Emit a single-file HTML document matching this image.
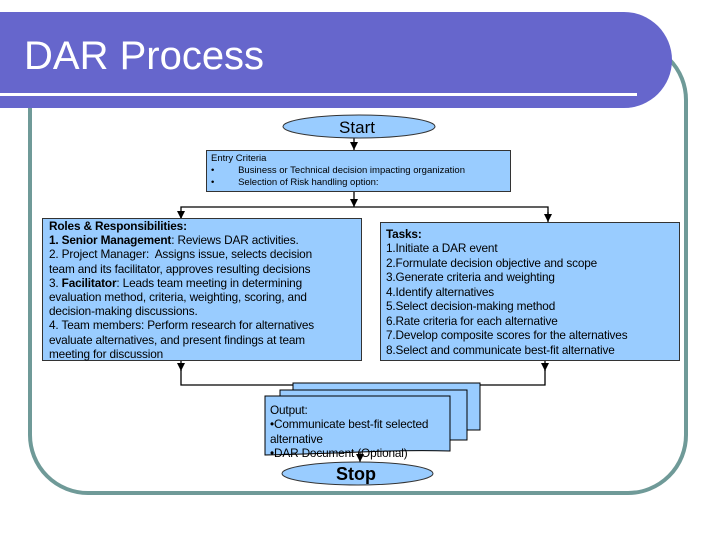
<!DOCTYPE html>
<html><head><meta charset="utf-8"><style>
body{margin:0;width:720px;height:540px;background:#fff;position:relative;overflow:hidden;font-family:"Liberation Sans",sans-serif}
.a{position:absolute}
.box{position:absolute;background:#99ccff;border:1px solid #333;box-sizing:border-box}
.t{font-size:11.8px;line-height:14.2px;color:#000;white-space:nowrap;letter-spacing:-0.15px}
</style></head><body>
<div class="a" style="left:28px;top:40px;width:660px;height:455px;border:4px solid #6f9a98;border-radius:60px;box-sizing:border-box"></div>
<div class="a" style="left:0;top:12px;width:672px;height:96px;background:#6666cc;border-radius:0 48px 48px 0"></div>
<div class="a" style="left:0;top:93px;width:637px;height:3px;background:#fff"></div>
<div class="a" style="left:24px;top:33px;font-size:40px;color:#fff;line-height:46px">DAR Process</div>
<svg class="a" style="left:0;top:0" width="720" height="540">
<defs><marker id="m" markerWidth="8" markerHeight="8" refX="8" refY="4" orient="auto" markerUnits="userSpaceOnUse"><path d="M0,0L8,4L0,8z" fill="#000"/></marker></defs>
<g stroke="#000" stroke-width="1.3" fill="none">
<line x1="354" y1="138" x2="354" y2="150" marker-end="url(#m)"/>
<line x1="354" y1="191" x2="354" y2="207" marker-end="url(#m)"/>
<polyline points="181,218 181,207 548,207 548,220"/>
<line x1="548" y1="212" x2="548" y2="222" marker-end="url(#m)"/>
<line x1="181" y1="212" x2="181" y2="219" marker-end="url(#m)"/>
<line x1="181" y1="360" x2="181" y2="371" marker-end="url(#m)"/>
<line x1="545" y1="360" x2="545" y2="371" marker-end="url(#m)"/>
<polyline points="181,370 181,385 545,385 545,370"/>
<line x1="356" y1="385" x2="356" y2="397" marker-end="url(#m)"/>
</g>
<ellipse cx="359" cy="126.5" rx="76" ry="11.5" fill="#99ccff" stroke="#333"/>
<text x="357" y="133" font-size="17" text-anchor="middle" font-family="Liberation Sans">Start</text>
<rect x="293" y="383" width="187" height="47" fill="#99ccff" stroke="#000"/>
<rect x="280" y="390" width="187" height="50" fill="#99ccff" stroke="#000"/>
<path d="M265,396H450V451Q410,450 360,452T265,455Z" fill="#99ccff" stroke="#000"/>
<line x1="360" y1="452" x2="360" y2="462" stroke="#000" stroke-width="1.3" marker-end="url(#m)"/>
<ellipse cx="357.5" cy="473.5" rx="75.5" ry="11.5" fill="#99ccff" stroke="#333"/>
<text x="356" y="480" font-size="18" font-weight="bold" text-anchor="middle" font-family="Liberation Sans">Stop</text>
</svg>
<div class="box" style="left:206px;top:150px;width:305px;height:42px;padding:2px 0 0 4px;font-size:9.5px;line-height:12px">Entry Criteria<br>•&nbsp;&nbsp;&nbsp;&nbsp;&nbsp;&nbsp;&nbsp;&nbsp;&nbsp;Business or Technical decision impacting organization<br>•&nbsp;&nbsp;&nbsp;&nbsp;&nbsp;&nbsp;&nbsp;&nbsp;&nbsp;Selection of Risk handling option:</div>
<div class="box t" style="left:42px;top:218px;width:320px;height:143px;padding:0 0 0 6px">
<b>Roles &amp; Responsibilities:</b><br><b>1. Senior Management</b>: Reviews DAR activities.<br>2. Project Manager:&nbsp; Assigns issue, selects decision<br>team and its facilitator, approves resulting decisions<br>3. <b>Facilitator</b>: Leads team meeting in determining<br>evaluation method, criteria, weighting, scoring, and<br>decision-making discussions.<br>4. Team members: Perform research for alternatives<br>evaluate alternatives, and present findings at team<br>meeting for discussion</div>
<div class="box t" style="left:380px;top:222px;width:300px;height:139px;padding:4px 0 0 5px;line-height:14.45px">
<b>Tasks:</b><br>1.Initiate a DAR event<br>2.Formulate decision objective and scope<br>3.Generate criteria and weighting<br>4.Identify alternatives<br>5.Select decision-making method<br>6.Rate criteria for each alternative<br>7.Develop composite scores for the alternatives<br>8.Select and communicate best-fit alternative</div>
<div class="a t" style="left:270px;top:403px;line-height:14.4px">Output:<br>•Communicate best-fit selected<br>alternative<br>•DAR Document (Optional)</div>
</body></html>
